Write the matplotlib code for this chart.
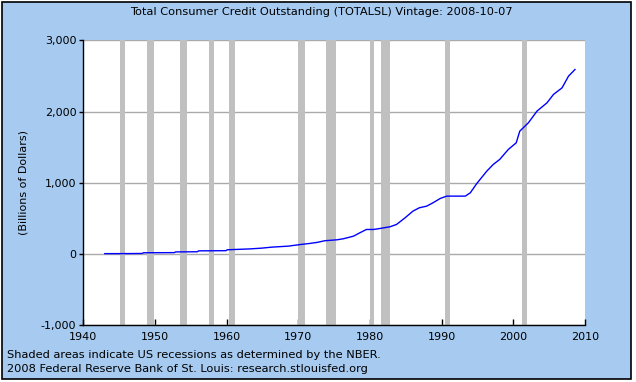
"""Total consumer credit outstanding (TOTALSL), FRED-style chart."""

import matplotlib

matplotlib.use("Agg")
import matplotlib.pyplot as plt
from matplotlib.patches import Rectangle
from matplotlib.ticker import FuncFormatter

# values (billions of dollars)
years = [1943.0, 1945.0, 1948.2, 1948.4, 1952.7, 1952.9, 1955.9, 1956.1, 1959.9, 1960.1,
         1963.2, 1964.9, 1966.3, 1968.6, 1970.0, 1971.6, 1972.6, 1973.7, 1975.4, 1976.3,
         1977.7, 1978.6, 1979.5, 1980.5, 1981.4, 1982.8, 1983.7, 1984.9, 1986.0, 1986.9,
         1987.9, 1988.8, 1989.8, 1990.7, 1993.3, 1994.0, 1994.9, 1996.3, 1997.2, 1998.1,
         1999.3, 2000.4, 2000.9, 2002.1, 2003.3, 2004.7, 2005.6, 2006.8, 2007.7, 2008.6]
credit = [6, 6, 8, 18, 20, 30, 32, 45, 47, 60,
          72, 83, 97, 111, 130, 149, 163, 187, 200, 215,
          251, 299, 345, 345, 359, 383, 415, 509, 603, 650,
          672, 720, 780, 813, 813, 860, 990, 1164, 1258, 1328,
          1468, 1561, 1725, 1842, 2006, 2123, 2240, 2333, 2497, 2590]

# NBER recessions (start, end) as decimal years
rec_start = [1945.1, 1948.85, 1953.5, 1957.6, 1960.3, 1969.9, 1973.85, 1980.0, 1981.5, 1990.5, 2001.2]
rec_end = [1945.8, 1949.8, 1954.4, 1958.3, 1961.1, 1970.9, 1975.2, 1980.5, 1982.85, 1991.2, 2001.85]

title = "Total Consumer Credit Outstanding (TOTALSL) Vintage: 2008-10-07"
note1 = "Shaded areas indicate US recessions as determined by the NBER."
note2 = "2008 Federal Reserve Bank of St. Louis: research.stlouisfed.org"

BG = "#a6caf0"

W, H = 636, 382
fig = plt.figure(figsize=(W / 100, H / 100), dpi=100)
fig.patch.set_facecolor("white")
fig.patches.append(Rectangle((2 / W, 3 / H), 629 / W, 377 / H, transform=fig.transFigure,
                             facecolor=BG, edgecolor="black", linewidth=1.2, zorder=-1))

ax = fig.add_axes([83.3 / W, (H - 325.3) / H, (585 - 83.3) / W, (325.3 - 40.3) / H])
ax.set_zorder(1)
ax.set_facecolor("white")

for s, e in zip(rec_start, rec_end):
    ax.axvspan(s, e, color="#c0c0c0", linewidth=0, zorder=2)

ax.plot(years, credit, color="#0000ff", linewidth=1.0, zorder=3)

ax.set_xlim(1940, 2010)
ax.set_ylim(-1000, 3000)
ax.set_xticks(range(1940, 2011, 10))
ax.set_yticks(range(-1000, 3001, 1000))
ax.yaxis.set_major_formatter(FuncFormatter(lambda v, p: f"{int(v):,}"))
ax.set_axisbelow(True)
ax.grid(axis="y", color="#aaaaaa", linewidth=1.0)

for side in ("top", "right"):
    ax.spines[side].set_visible(False)
for side in ("left", "bottom"):
    ax.spines[side].set_color("black")
    ax.spines[side].set_linewidth(1.0)
    ax.spines[side].set_zorder(4)

ax.tick_params(axis="y", direction="out", length=3, width=1, labelsize=8, colors="black", pad=2)
ax.tick_params(axis="x", direction="in", length=4, width=1, labelsize=8, colors="black", pad=5)

ax.set_ylabel("(Billions of Dollars)", fontsize=8, labelpad=9)

fig.text(321 / W, 1 - 12 / H, title, fontsize=8.2, ha="center", va="center")
fig.text(7 / W, 1 - 355 / H, note1, fontsize=8.2, ha="left", va="center")
fig.text(7 / W, 1 - 369 / H, note2, fontsize=8.2, ha="left", va="center")

fig.savefig("out.png", dpi=100, facecolor=fig.get_facecolor())
